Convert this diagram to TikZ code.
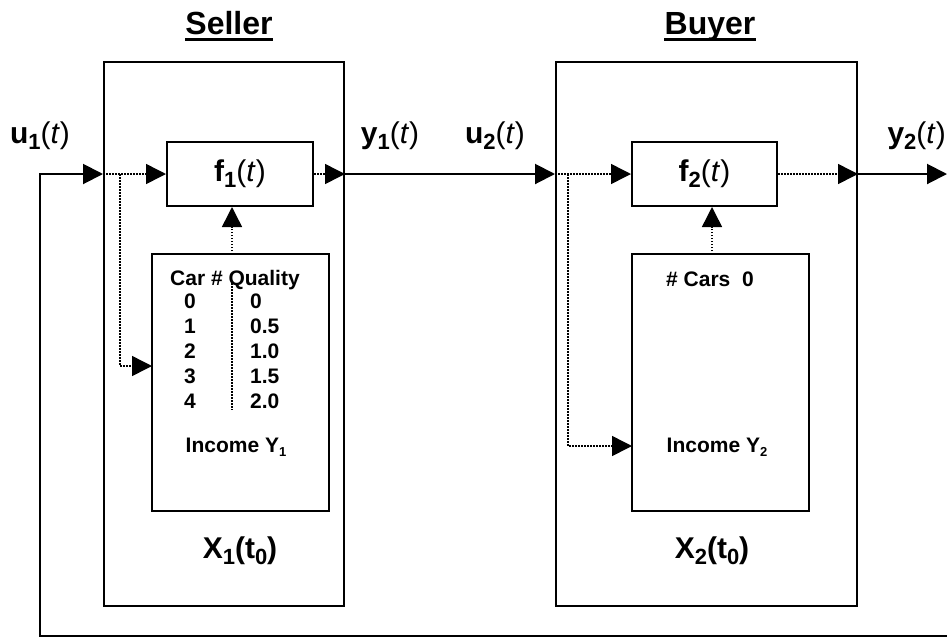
\documentclass[tikz,border=0pt]{standalone}
\usepackage{fontspec}
\setmainfont{Liberation Sans}
\usetikzlibrary{arrows.meta,calc}
\newcommand\titlefont{\fontsize{32}{38}\selectfont\bfseries}
\newcommand\bigfont{\fontsize{30}{36}\selectfont\bfseries}
\newcommand\smallfont{\fontsize{21}{25}\selectfont\bfseries}
\newcommand\bsub[1]{\raisebox{-6pt}{\fontsize{22}{22}\selectfont #1}}
\newcommand\ssub[1]{\raisebox{-4pt}{\fontsize{13}{13}\selectfont #1}}
\newcommand\targ{{\mdseries(\textit{t})}}
\begin{document}
\begin{tikzpicture}[x=1pt,y=-1pt,
  boxstyle/.style={draw, line width=2pt, inner sep=0pt},
  lbl/.style={inner sep=0pt, anchor=base},
  solidarrow/.style={line width=2pt, -{Triangle[length=20pt,width=20pt]}},
  dotarrow/.style={line width=1.5pt, dash pattern=on 1.5pt off 1.5pt, -{Triangle[length=20pt,width=20pt]}},
  dotline/.style={line width=1.5pt, dash pattern=on 1.5pt off 1.5pt}]
\useasboundingbox (0,0) rectangle (947,638);
% outer boxes
\node[boxstyle, minimum width=240pt, minimum height=544pt] (seller) at (224,334) {};
\node[boxstyle, minimum width=301pt, minimum height=544pt] (buyer) at (706.5,334) {};
% function boxes
\node[boxstyle, minimum width=146pt, minimum height=64pt, font=\bigfont] (f1) at (240,174) {f\bsub{1}\targ};
\node[boxstyle, minimum width=145pt, minimum height=64pt, font=\bigfont] (f2) at (704.5,174) {f\bsub{2}\targ};
% state boxes
\node[boxstyle, minimum width=177pt, minimum height=257pt] (s1) at (240.5,382.5) {};
\node[boxstyle, minimum width=177pt, minimum height=257pt] (s2) at (720.5,382.5) {};
% titles
\node[lbl, font=\titlefont] (tseller) at (229,34) {Seller};
\node[lbl, font=\titlefont] (tbuyer) at (710,34) {Buyer};
\draw[line width=3pt] ([yshift=-5pt]tseller.base west) -- ([yshift=-5pt]tseller.base east);
\draw[line width=3pt] ([yshift=-5pt]tbuyer.base west) -- ([yshift=-5pt]tbuyer.base east);
% signal labels
\node[lbl, font=\bigfont] (lu1) at (40,143) {u\bsub{1}\targ};
\node[lbl, font=\bigfont] (ly1) at (390,143) {y\bsub{1}\targ};
\node[lbl, font=\bigfont] (lu2) at (495,143) {u\bsub{2}\targ};
\node[lbl, font=\bigfont, anchor=base east] (ly2) at (946,143) {y\bsub{2}\targ};
\node[lbl, font=\bigfont] (lx1) at (240,558) {X\bsub{1}(t\bsub{0})};
\node[lbl, font=\bigfont] (lx2) at (712,558) {X\bsub{2}(t\bsub{0})};
% seller table
\node[lbl, font=\smallfont, anchor=base west] (thead) at (170,285) {Car \# Quality};
\foreach \i/\q [count=\k from 0] in {0/0,1/0.5,2/1.0,3/1.5,4/2.0}{
  \node[lbl, font=\smallfont] (ca\k) at (190,{308+25*\k}) {\i};
  \node[lbl, font=\smallfont, anchor=base west] (qa\k) at (250,{308+25*\k}) {\q};
}
\coordinate (tdt) at (232,283);
\coordinate (tdb) at (232,410);
\draw[dotline] (tdt) -- (tdb);
\node[lbl, font=\smallfont] (inc1) at (236,452) {Income Y\ssub{1}};
% buyer state
\node[lbl, font=\smallfont] (cars) at (710,286) {\# Cars\ \ 0};
\node[lbl, font=\smallfont] (inc2) at (717,452) {Income Y\ssub{2}};
% connectors
\coordinate (fbR) at (947,636);
\coordinate (fbL) at (40,636);
\coordinate (in1) at (seller.west |- f1.west);
\coordinate (out1) at (seller.east |- f1.east);
\coordinate (in2) at (buyer.west |- f2.west);
\coordinate (out2) at (buyer.east |- f2.east);
\coordinate (end2) at (947,174);
\draw[solidarrow] (fbR) -- (fbL) -- (fbL |- in1) -- (in1);
\draw[dotarrow] (in1) -- (f1.west);
\coordinate (br1) at (120,174);
\coordinate (tg1) at (152,366);
\draw[dotarrow] (br1) |- (tg1);
\coordinate (up1) at (232,254);
\draw[dotarrow] (up1) -- (up1 |- f1.south);
\draw[dotarrow] (f1.east) -- (out1);
\draw[solidarrow] (out1) -- (in2);
\draw[dotarrow] (in2) -- (f2.west);
\coordinate (br2) at (568,174);
\coordinate (tg2) at (632,446);
\draw[dotarrow] (br2) |- (tg2);
\coordinate (up2) at (712,254);
\draw[dotarrow] (up2) -- (up2 |- f2.south);
\draw[dotarrow] (f2.east) -- (out2);
\draw[solidarrow] (out2) -- (end2);
\end{tikzpicture}
\end{document}
